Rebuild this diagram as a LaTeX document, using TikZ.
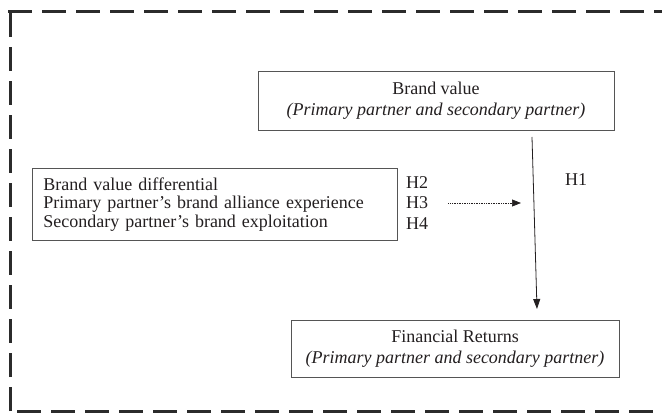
\documentclass[tikz,border=0pt]{standalone}
\usepackage{fontspec}
\setmainfont{Liberation Serif}
\usetikzlibrary{arrows.meta,positioning}
\definecolor{modelInk}{HTML}{231F20}
\definecolor{modelEdge}{HTML}{555555}
\definecolor{modelFrame}{HTML}{2B2B2B}
\tikzset{
  every node/.style={font=\fontsize{18}{18.5}\selectfont, text=modelInk},
  box/.style={
    draw=modelEdge,
    line width=0.8pt,
    fill=white,
    inner sep=0pt,
    align=center,
    font=\fontsize{18}{20.5}\selectfont
  },
  hlabel/.style={inner sep=0pt, align=left,
    font=\fontsize{18}{20.5}\selectfont},
  frame/.style={
    draw=modelFrame,
    line width=3pt,
    dash pattern=on 24pt off 10pt
  },
  link/.style={
    -{Triangle[length=10pt,width=7pt]},
    line width=0.8pt,
    draw=modelInk
  },
  dotlink/.style={
    -{Triangle[length=9pt,width=7pt]},
    line width=0.7pt,
    draw=modelInk,
    dash pattern=on 0.8pt off 0.9pt
  }
}

\begin{document}
\begin{tikzpicture}[x=1pt,y=-1pt]
  \useasboundingbox (0,0) rectangle (662,414);

  % open dashed frame (runs off to the right)
  \draw[frame] (10,411) -- (10,12);
  \draw[frame] (8,12) -- (680,12);
  \draw[frame] (17,411) -- (680,411);

  \node[box, minimum width=356pt, minimum height=59pt] (brand) at (436,100.5)
    {Brand value\\\textit{(Primary partner and secondary partner)}};

  \node[box, minimum width=328pt, minimum height=57pt] (returns) at (455,348.5)
    {Financial Returns\\\textit{(Primary partner and secondary partner)}};

  \node[box, align=left, anchor=north west, text width=343pt,
    minimum height=72pt, inner xsep=11pt, inner ysep=6pt,
    font=\fontsize{18}{18.5}\selectfont] (moderators) at (32,168)
    {Brand value differential\\
     Primary partner’s brand alliance experience\\
     Secondary partner’s brand exploitation};

  \node[hlabel, anchor=west] (hyps) at (406,203) {H2\\H3\\H4};
  \node[hlabel, anchor=west] (hone) at (565,180) {H1};

  \coordinate (h1top) at (532,137);
  \coordinate (h1end) at (537,309);
  \coordinate (modend) at (521,203);

  \draw[link] (h1top) -- (h1end);
  \draw[dotlink, shorten <=20pt] (hyps.east) -- (modend);
\end{tikzpicture}
\end{document}
